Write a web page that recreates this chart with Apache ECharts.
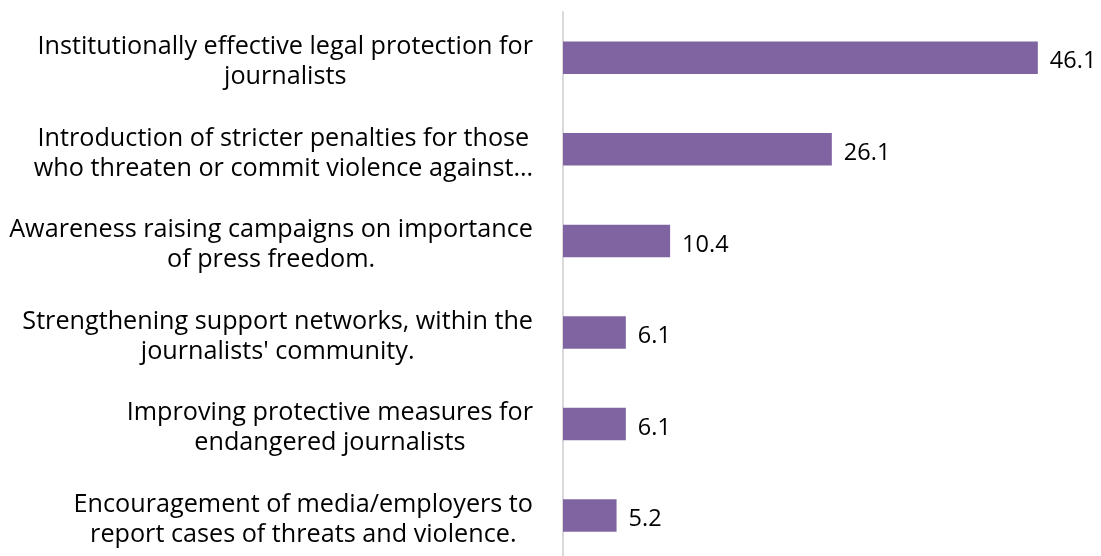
<!DOCTYPE html>
<html>
<head>
<meta charset="utf-8">
<script src="https://cdn.jsdelivr.net/npm/echarts@6/dist/echarts.min.js"></script>
<style>
html,body{margin:0;padding:0;background:#fff;}
#main{width:1101px;height:556px;}
</style>
</head>
<body>
<div id="main"></div>
<script>
var categories = [
  'Institutionally effective legal protection for\njournalists',
  'Introduction of stricter penalties for those\nwho threaten or commit violence against…',
  'Awareness raising campaigns on importance\nof press freedom.',
  "Strengthening support networks, within the\njournalists' community.",
  'Improving protective measures for\nendangered journalists',
  'Encouragement of media/employers to\nreport cases of threats and violence.'
];
var values = [46.1, 26.1, 10.4, 6.1, 6.1, 5.2];

var chart = echarts.init(document.getElementById('main'));
chart.setOption({
  animation: false,
  grid: {left: 563, top: 12, right: 23, bottom: -5.4, containLabel: false, outerBoundsMode: 'none'},
  xAxis: {
    type: 'value', min: 0, max: 50,
    show: false
  },
  yAxis: {
    type: 'category', inverse: true, data: categories,
    axisLine: {show: true, lineStyle: {color: '#d9d9d9', width: 2}},
    axisTick: {show: false},
    splitLine: {show: false},
    axisLabel: {
      margin: 30,
      align: 'right',
      padding: [8, 0, 0, 0],
      formatter: function (v) {
        return v.split('\n').map(function (l) { return '{c|' + l + '}'; }).join('\n');
      },
      rich: {
        c: {align: 'center', fontFamily: 'Open Sans', fontSize: 25.2, color: '#000', lineHeight: 30}
      }
    }
  },
  series: [{
    type: 'bar',
    data: values,
    barWidth: 32.5,
    itemStyle: {color: '#8064A2'},
    label: {
      show: true, position: 'right', distance: 12,
      fontFamily: 'Open Sans', fontSize: 23.5, color: '#000',
      offset: [0, 4],
      formatter: function (p) { return p.value.toFixed(1); }
    }
  }]
});
</script>
</body>
</html>
